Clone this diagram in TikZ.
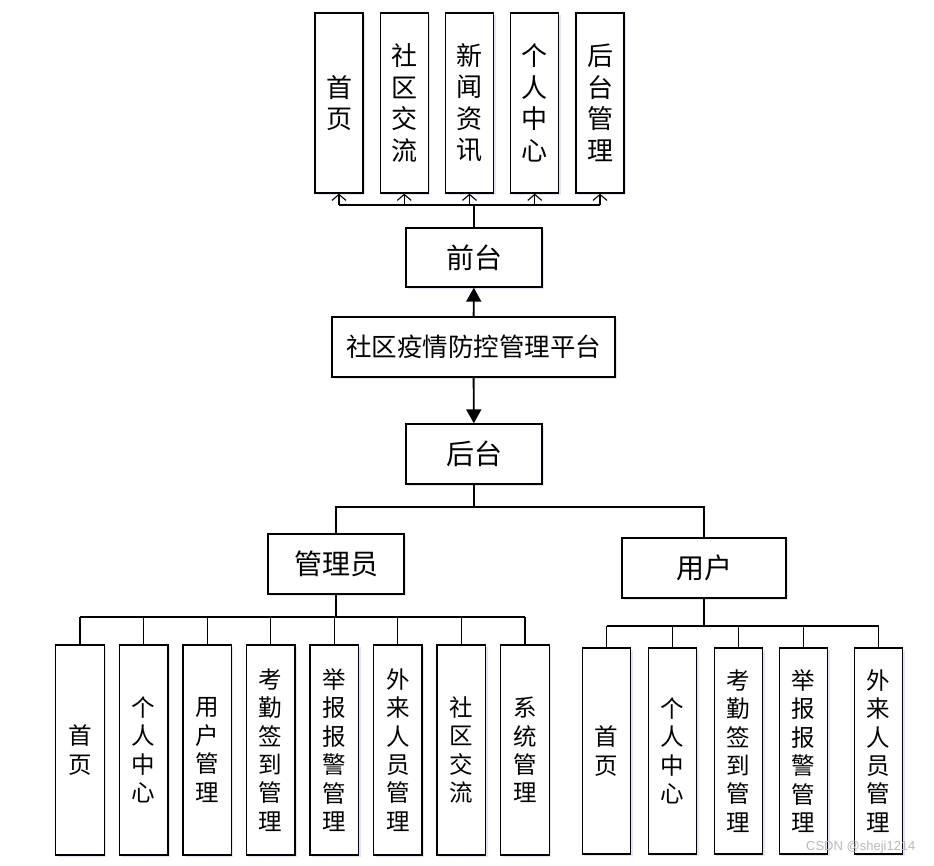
\documentclass[tikz,border=0pt]{standalone}
\usepackage{fontspec}
\setmainfont{Noto Sans CJK SC}
\newfontfamily\wmfont{Liberation Sans}
\usetikzlibrary{arrows.meta,positioning,shadows}

\begin{document}
\begin{tikzpicture}[x=1pt, y=-1pt,
        box/.style     = {draw, line width=1.4pt, inner sep=0pt, fill=white,
                          drop shadow={shadow xshift=2pt, shadow yshift=-2pt, fill=blue!40!gray, opacity=0.15}},
        mainbox/.style = {box, minimum width=136pt, minimum height=59pt, font=\fontsize{28}{30}\selectfont},
        topleaf/.style = {box, minimum width=48pt, minimum height=180pt, align=center, font=\fontsize{26}{31.5}\selectfont},
        leaf/.style    = {box, minimum width=48.5pt, minimum height=210pt, align=center, font=\fontsize{23.5}{28.4}\selectfont},
        link/.style    = {draw, line width=1.1pt},
        stem/.style    = {draw, line width=1.9pt},
        >=Triangle]

        \useasboundingbox (0,0) rectangle (934,865);

        % middle column
        \node[box, minimum width=283pt, minimum height=60pt, font=\fontsize{25.5}{28}\selectfont] (platform) at (473.5,347) {社区疫情防控管理平台};
        \node[mainbox] (front) at (474,257.5) {前台};
        \node[mainbox, minimum height=60pt] (back) at (474,454) {后台};

        \draw[stem, -{Triangle[length=14pt,width=15pt]}] (platform) -- (front);
        \draw[stem, -{Triangle[length=14pt,width=15pt]}] (platform) -- (back);

        % front end pages
        \foreach \lbl [count=\i] in {首\\页, 社\\区\\交\\流, 新\\闻\\资\\讯, 个\\人\\中\\心, 后\\台\\管\\理}
        \node[topleaf] (f\i) at ({339+65.25*(\i-1)},103) {\lbl};

        \coordinate (fbus) at (474,205);
        \draw[stem] (front.north) -- (fbus);
        \draw[link] (f1.south |- fbus) -- (f5.south |- fbus);
        \foreach \i in {1,...,5}
        \draw[link, -{Straight Barb[length=6pt,width=14pt]}] (f\i.south |- fbus) -- (f\i.south);

        % back end roles
        \node[mainbox, minimum height=60pt] (admin) at (336,564) {管理员};
        \node[mainbox, minimum width=164pt, minimum height=60pt] (user) at (704,568) {用户};

        \coordinate (bbus) at (474,507);
        \draw[link] (back.south) -- (bbus);
        \draw[link] (admin.north) -- (admin.north |- bbus) -- (user.north |- bbus) -- (user.north);

        % admin pages
        \foreach \lbl [count=\i] in {首\\页, 个\\人\\中\\心, 用\\户\\管\\理, 考\\勤\\签\\到\\管\\理,
            举\\报\\报\\警\\管\\理, 外\\来\\人\\员\\管\\理, 社\\区\\交\\流, 系\\统\\管\\理}
        \node[leaf] (a\i) at ({80+63.57*(\i-1)},750) {\lbl};

        \coordinate (abus) at (336,617);
        \draw[stem] (admin.south) -- (abus);
        \draw[stem, line width=1.6pt] (a1.north |- abus) -- (a8.north |- abus);
        \foreach \i in {1,...,8}
        \draw[link] (a\i.north |- abus) -- (a\i.north);

        % user pages
        \foreach \x/\lbl [count=\i] in {606.5/首\\页, 672.5/个\\人\\中\\心, 738.5/考\\勤\\签\\到\\管\\理,
            803.5/举\\报\\报\\警\\管\\理, 878.5/外\\来\\人\\员\\管\\理}
        \node[leaf, minimum height=206pt] (u\i) at (\x,751) {\lbl};

        \coordinate (ubus) at (704,626);
        \draw[stem] (user.south) -- (ubus);
        \draw[stem, line width=1.6pt] (u1.north |- ubus) -- (u5.north |- ubus);
        \foreach \i in {1,...,5}
        \draw[link] (u\i.north |- ubus) -- (u\i.north);

        \node[text=gray!55, font=\wmfont\fontsize{13}{15}\selectfont, anchor=east] (watermark) at (919,847) {CSDN @sheji1214};

    \end{tikzpicture}
\end{document}
